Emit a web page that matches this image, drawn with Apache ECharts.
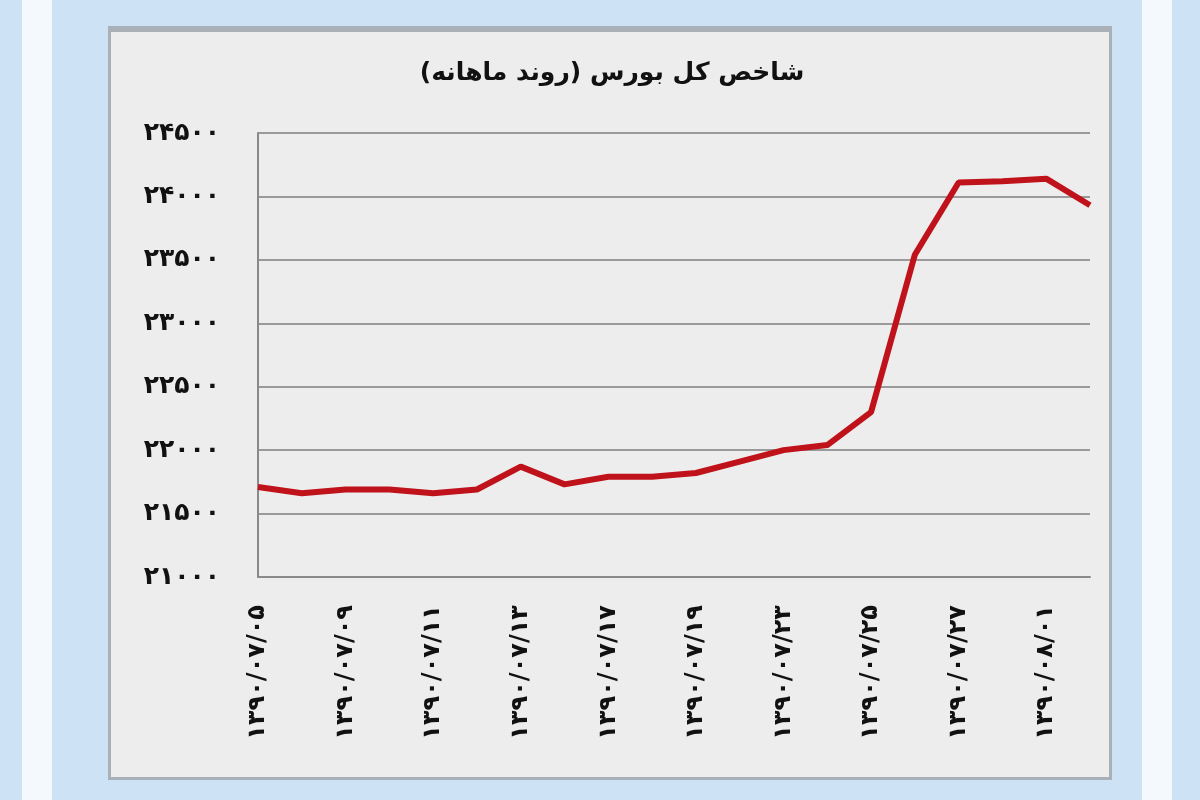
<!DOCTYPE html>
<html>
<head>
<meta charset="utf-8">
<script src="https://cdn.jsdelivr.net/npm/echarts@6/dist/echarts.min.js"></script>
<style>html,body{margin:0;padding:0;background:#cde2f4;}#c{width:1200px;height:800px;}</style>
</head>
<body>
<div id="c"></div>
<script>
var titleText = 'شاخص کل بورس (روند ماهانه)';
var categories = ['۱۳۹۰/۰۷/۰۵','۱۳۹۰/۰۷/۰۶','۱۳۹۰/۰۷/۰۹','۱۳۹۰/۰۷/۱۰','۱۳۹۰/۰۷/۱۱','۱۳۹۰/۰۷/۱۲','۱۳۹۰/۰۷/۱۳','۱۳۹۰/۰۷/۱۶','۱۳۹۰/۰۷/۱۷','۱۳۹۰/۰۷/۱۸','۱۳۹۰/۰۷/۱۹','۱۳۹۰/۰۷/۲۰','۱۳۹۰/۰۷/۲۳','۱۳۹۰/۰۷/۲۴','۱۳۹۰/۰۷/۲۵','۱۳۹۰/۰۷/۲۶','۱۳۹۰/۰۷/۲۷','۱۳۹۰/۰۷/۳۰','۱۳۹۰/۰۸/۰۱','۱۳۹۰/۰۸/۰۲'];
var indexValues = [21710,21660,21690,21690,21660,21690,21870,21730,21790,21790,21820,21910,22000,22040,22300,23540,24110,24120,24140,23930];
var yMin = 21000, yMax = 24500, yStep = 500;
var persianDigits = ['۰','۱','۲','۳','۴','۵','۶','۷','۸','۹'];
function toPersian(n){ return String(n).replace(/[0-9]/g, function(d){ return persianDigits[+d]; }); }

var chart = echarts.init(document.getElementById('c'));
chart.setOption({
  backgroundColor: '#cde2f4',
  animation: false,
  graphic: [
    {type:'rect', z:-10, shape:{x:22,y:0,width:30,height:800}, style:{fill:'#f4f9fd'}},
    {type:'rect', z:-10, shape:{x:1142,y:0,width:30,height:800}, style:{fill:'#f4f9fd'}},
    {type:'rect', z:-9, shape:{x:108,y:26,width:1004,height:754}, style:{fill:'#a9b0b8'}},
    {type:'rect', z:-8, shape:{x:111,y:32,width:998,height:745}, style:{fill:'#ededed'}}
  ],
  title: {
    text: titleText, left: 607, top: 56, textAlign: 'center',
    textStyle: {fontFamily: 'DejaVu Sans', fontSize: 25, fontWeight: 'bold', color: '#111'}
  },
  grid: {left: 258, right: 110, top: 133, bottom: 223},
  xAxis: {
    type: 'category', data: categories, boundaryGap: false,
    axisLine: {lineStyle: {color: '#8a8a8a', width: 2}},
    axisTick: {show: false},
    axisLabel: {interval: 1, rotate: 90, margin: 28, fontFamily: 'DejaVu Sans', fontSize: 24, fontWeight: 'bold', color: '#111'}
  },
  yAxis: {
    type: 'value', min: yMin, max: yMax, interval: yStep,
    axisLine: {show: true, lineStyle: {color: '#8a8a8a', width: 2}},
    axisTick: {show: false},
    splitLine: {lineStyle: {color: '#9a9a9a', width: 2}},
    axisLabel: {margin: 38, formatter: function(v){ return toPersian(v); }, fontFamily: 'DejaVu Sans', fontSize: 25, fontWeight: 'bold', color: '#111'}
  },
  series: [{
    type: 'line', data: indexValues, symbol: 'none', smooth: false,
    lineStyle: {color: '#c0121a', width: 6}
  }]
});
</script>
</body>
</html>
